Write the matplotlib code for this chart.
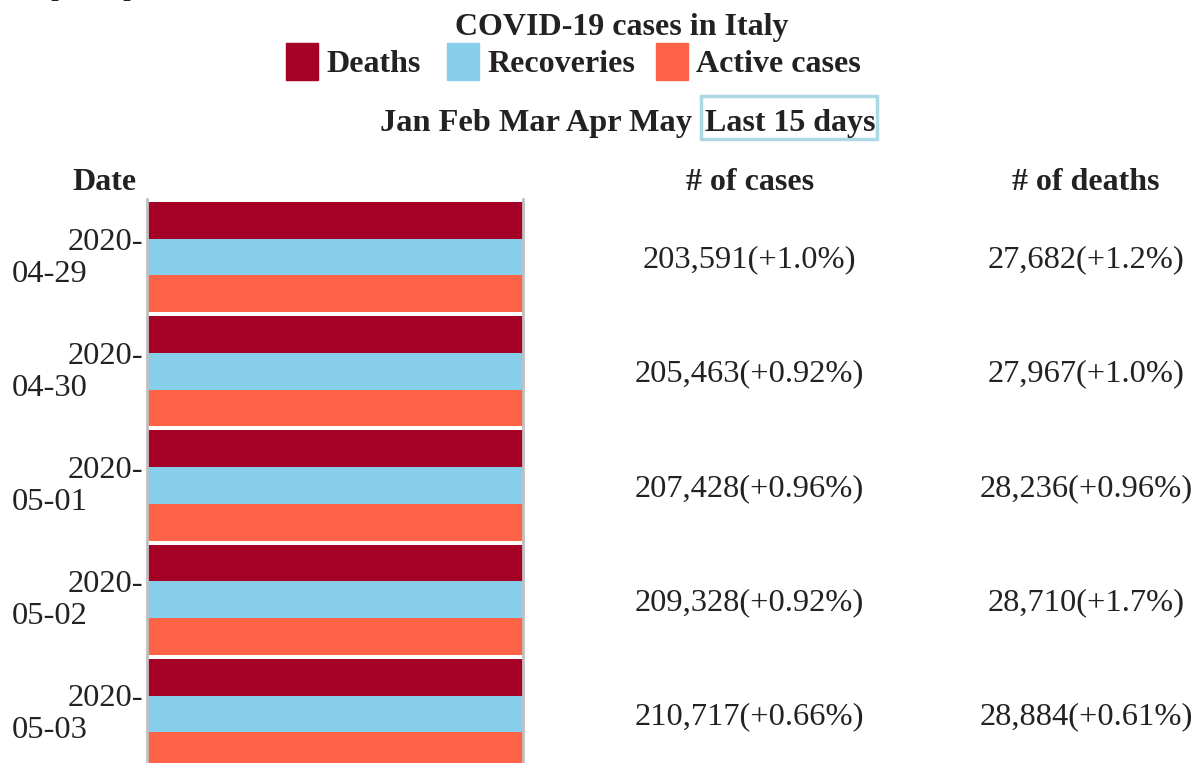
import matplotlib
matplotlib.use("Agg")
import matplotlib.pyplot as plt
from matplotlib.patches import Rectangle

# ---------------- data ----------------
dates = ["2020-04-29", "2020-04-30", "2020-05-01", "2020-05-02", "2020-05-03"]
cases = [203591, 205463, 207428, 209328, 210717]
cases_pct = ["+1.0%", "+0.92%", "+0.96%", "+0.92%", "+0.66%"]
deaths = [27682, 27967, 28236, 28710, 28884]
deaths_pct = ["+1.2%", "+1.0%", "+0.96%", "+1.7%", "+0.61%"]
series = ["Deaths", "Recoveries", "Active cases"]
colors = ["#a50026", "#87ceeb", "#ff6347"]
# bar lengths as shown (each bar spans the full cell)
shares = {"Deaths": [1, 1, 1, 1, 1],
          "Recoveries": [1, 1, 1, 1, 1],
          "Active cases": [1, 1, 1, 1, 1]}
buttons = ["Jan", "Feb", "Mar", "Apr", "May"]
last_btn = "Last 15 days"
title = "COVID-19 cases in Italy"

W, H = 1199, 763
fig = plt.figure(figsize=(W / 100, H / 100), dpi=100)
FONT = "Liberation Serif"
TC = "#222222"


def fx(px):
    return px / W


def fy(py):
    return 1 - py / H


def txt(x, y, s, size=23.4, weight="normal", ha="center", va="center"):
    fig.text(fx(x), fy(y), s, fontsize=size, fontweight=weight, ha=ha, va=va,
             family=FONT, color=TC)


# clipped text at very top
txt(95, -13, "p       p", size=23, ha="center", va="center")

# title
txt(622, 27, title, size=23, weight="bold")

# legend
leg_x = [286, 447, 656]
for lx, name, c in zip(leg_x, series, colors):
    fig.patches.append(Rectangle((fx(lx), fy(80)), fx(32), 37 / H, color=c,
                                 transform=fig.transFigure, figure=fig))
    txt(lx + 40, 64, name, size=23, weight="bold", ha="left")

# buttons
txt(380, 123, " ".join(buttons), size=23.3, weight="bold", ha="left")
txt(705, 123, last_btn, size=23, weight="bold", ha="left")
fig.patches.append(Rectangle((fx(701), fy(139)), fx(176), 43 / H, fill=False,
                             edgecolor="#add8e6", linewidth=2.5,
                             transform=fig.transFigure, figure=fig))

# headers
txt(137, 182, "Date", size=23, weight="bold", ha="right")
txt(750, 182, "# of cases", size=23, weight="bold")
txt(1086, 182, "# of deaths", size=23, weight="bold")

# bars axis
group_h = 114.2
bar_h = 36.7
ax = fig.add_axes([fx(147), 0, fx(376), fy(199)])
n = len(dates)
for i in range(n):
    for j, name in enumerate(series):
        y0 = i * group_h + j * bar_h
        ax.barh(y0 + bar_h / 2, shares[name][i], height=bar_h, left=0,
                color=colors[j], linewidth=0)
ax.set_xlim(0, 1)
ax.set_ylim(763 - 202, -3)
ax.set_xticks([])
ax.set_yticks([])
for s in ["top", "bottom"]:
    ax.spines[s].set_visible(False)
for s in ["left", "right"]:
    ax.spines[s].set_color("#c0c0c0")
    ax.spines[s].set_linewidth(2)

# per-row text
for i in range(n):
    yc = 202 + i * group_h
    d1, d2 = dates[i][:5], dates[i][5:]
    txt(143, yc + 40, d1, ha="right")
    txt(12, yc + 72, d2, ha="left")
    txt(749, yc + 58, f"{cases[i]:,}({cases_pct[i]})")
    txt(1086, yc + 58, f"{deaths[i]:,}({deaths_pct[i]})")

fig.savefig("out.png", dpi=100)
